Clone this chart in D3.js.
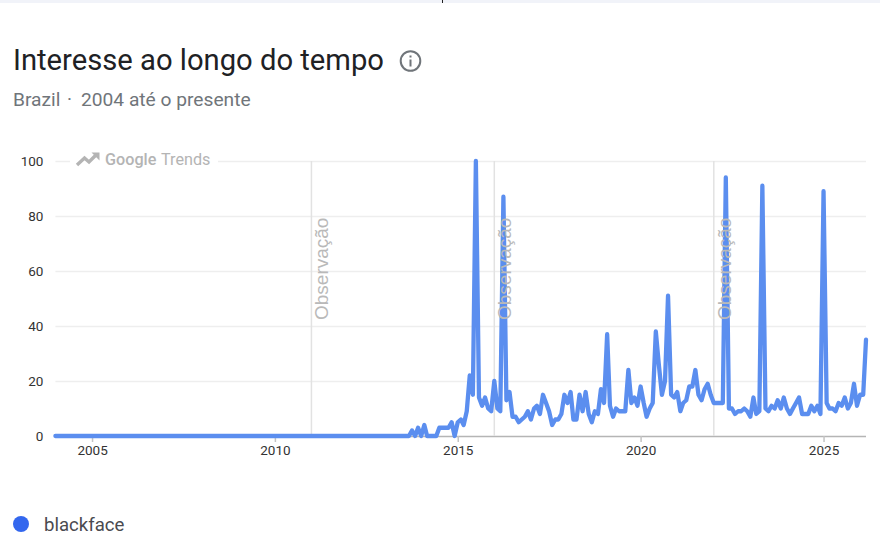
<!DOCTYPE html>
<html>
<head>
<meta charset="utf-8">
<script src="https://cdn.jsdelivr.net/npm/d3@7"></script>
<style>
  html, body { margin: 0; padding: 0; background: #fff; overflow: hidden; }
  text { font-family: Roboto, sans-serif; }
</style>
</head>
<body>
<script>
// monthly values, one row per year, first row is January 2004
const values = [
  0,0,0,0,0,0,0,0,0,0,0,0,
  0,0,0,0,0,0,0,0,0,0,0,0,
  0,0,0,0,0,0,0,0,0,0,0,0,
  0,0,0,0,0,0,0,0,0,0,0,0,
  0,0,0,0,0,0,0,0,0,0,0,0,
  0,0,0,0,0,0,0,0,0,0,0,0,
  0,0,0,0,0,0,0,0,0,0,0,0,
  0,0,0,0,0,0,0,0,0,0,0,0,
  0,0,0,0,0,0,0,0,0,0,0,0,
  0,0,0,0,0,0,0,0,0,2,0,3,
  0,4,0,0,0,0,3,3,3,3,5,0,
  5,6,4,9,22,15,100,14,11,14,10,9,
  20,10,9,87,13,16,7,7,5,6,7,9,
  6,10,11,8,15,12,9,4,6,6,8,15,
  12,16,6,6,15,9,16,8,5,9,8,17,
  12,37,11,7,10,9,9,9,24,12,14,11,
  18,12,7,10,12,38,26,15,20,51,15,14,
  16,9,12,13,18,18,24,15,13,17,19,15,
  12,12,12,12,94,10,10,8,9,9,10,9,
  7,14,8,9,91,10,9,11,10,13,10,14,
  10,8,10,12,14,8,8,8,11,9,11,8,
  89,12,10,10,9,12,11,14,10,12,19,11,
  15,15,35
];
const firstMonth = new Date(Date.UTC(2004, 0, 1));
const lastMonth = new Date(Date.UTC(2026, 2, 1));
const yTicks = [0, 20, 40, 60, 80, 100];
const xTickYears = [2005, 2010, 2015, 2020, 2025];
const noteYears = [2011, 2016, 2022];
const noteLabel = 'Observação';
const seriesName = 'blackface';

const lineColor = '#5b8eef';
const plot = {left: 55.4, right: 866, top: 161, bottom: 436};

const months = d3.utcMonth.range(firstMonth, d3.utcMonth.offset(lastMonth, 1));
const series = months.map((d, i) => ({date: d, value: values[i]}));

const svg = d3.select('body').append('svg')
    .attr('width', 880)
    .attr('height', 550)
    .style('display', 'block');

// strip at the top of the screenshot
svg.append('rect').attr('width', 880).attr('height', 3).attr('fill', '#f1f3f9');
svg.append('rect').attr('x', 442).attr('width', 1).attr('height', 3).attr('fill', '#222');

// header
svg.append('text')
    .attr('x', 13).attr('y', 70)
    .attr('font-size', 29.2)
    .attr('fill', '#202124')
    .text('Interesse ao longo do tempo');
svg.append('text')
    .attr('x', 13).attr('y', 106)
    .attr('font-size', 19.2)
    .attr('fill', '#70757a')
    .text('Brazil');
svg.append('text')
    .attr('x', 67).attr('y', 106)
    .attr('font-size', 19.2)
    .attr('fill', '#70757a')
    .text('·');
svg.append('text')
    .attr('x', 81).attr('y', 106)
    .attr('font-size', 19.2)
    .attr('fill', '#70757a')
    .text('2004 até o presente');

// info icon
const info = svg.append('g').attr('transform', 'translate(410.5,61)');
info.append('circle').attr('r', 9.8).attr('fill', 'none').attr('stroke', '#70757a').attr('stroke-width', 2);
info.append('rect').attr('x', -1).attr('y', -1.5).attr('width', 2).attr('height', 7).attr('fill', '#70757a');
info.append('rect').attr('x', -1).attr('y', -5.5).attr('width', 2).attr('height', 2).attr('fill', '#70757a');

// scales
const xScale = d3.scaleUtc()
    .domain([firstMonth, lastMonth])
    .range([plot.left, plot.right]);
const yScale = d3.scaleLinear()
    .domain([0, 100])
    .range([plot.bottom, plot.top]);

// y axis and grid
const yAxis = d3.axisLeft(yScale)
    .tickValues(yTicks)
    .tickSize(-(plot.right - plot.left))
    .tickPadding(12);
const yG = svg.append('g')
    .attr('transform', 'translate(' + plot.left + ',0)')
    .call(yAxis);
yG.select('.domain').remove();
yG.selectAll('.tick line').attr('stroke', d => d === 0 ? '#b5b5b5' : '#eeeeee').attr('stroke-width', 1.5);
yG.selectAll('.tick text')
    .attr('font-size', 13.5)
    .attr('fill', '#333')
    .style('font-family', 'Roboto, sans-serif');

// x axis
const xAxis = d3.axisBottom(xScale)
    .tickValues(xTickYears.map(y => new Date(Date.UTC(y, 0, 1))))
    .tickFormat(d3.utcFormat('%Y'))
    .tickSize(6)
    .tickPadding(3);
const xG = svg.append('g')
    .attr('transform', 'translate(0,' + plot.bottom + ')')
    .call(xAxis);
xG.select('.domain').remove();
xG.selectAll('.tick line').attr('stroke', '#c4c4c4').attr('stroke-width', 1.5);
xG.selectAll('.tick text')
    .attr('font-size', 13.5)
    .attr('fill', '#333')
    .style('font-family', 'Roboto, sans-serif');

// note lines and labels
const noteX = y => xScale(new Date(Date.UTC(y, 0, 1)));
svg.selectAll('line.note')
    .data(noteYears)
    .enter()
    .append('line')
    .attr('class', 'note')
    .attr('x1', noteX)
    .attr('x2', noteX)
    .attr('y1', plot.top)
    .attr('y2', plot.bottom)
    .attr('stroke', '#e2e2e2')
    .attr('stroke-width', 1.5);

// trends logo sits on a white patch over the top grid line
svg.append('rect').attr('x', 70).attr('y', 150).attr('width', 148).attr('height', 20).attr('fill', '#fff');
svg.append('path')
    .attr('d', 'M77 165 L84.5 158 L89 162 L96 155')
    .attr('fill', 'none')
    .attr('stroke', '#b4b4b4')
    .attr('stroke-width', 3.4);
svg.append('path')
    .attr('d', 'M91.5 152.5 L99.5 152.5 L99.5 160.5 Z')
    .attr('fill', '#b4b4b4');
svg.append('text')
    .attr('x', 105).attr('y', 165)
    .attr('font-size', 16.2)
    .attr('font-weight', 500)
    .attr('fill', '#b4b4b4')
    .text('Google');
svg.append('text')
    .attr('x', 161).attr('y', 165)
    .attr('font-size', 16.2)
    .attr('fill', '#b4b4b4')
    .text('Trends');

// series line
const line = d3.line()
    .x(d => xScale(d.date))
    .y(d => yScale(d.value));
svg.append('path')
    .datum(series)
    .attr('d', line)
    .attr('fill', 'none')
    .attr('stroke', lineColor)
    .attr('stroke-width', 4.3)
    .attr('stroke-linejoin', 'round')
    .attr('stroke-linecap', 'round');

// rotated note labels go over the line
svg.selectAll('text.noteLabel')
    .data(noteYears)
    .enter()
    .append('text')
    .attr('class', 'noteLabel')
    .attr('transform', d => 'translate(' + (noteX(d) + 17) + ',320) rotate(-90)')
    .attr('font-size', 19)
    .attr('fill', '#b9b9b9')
    .style('font-family', '"Liberation Sans", Arial, sans-serif')
    .text(noteLabel);

// legend
svg.append('circle').attr('cx', 21).attr('cy', 524).attr('r', 8).attr('fill', '#3367ee');
svg.append('text')
    .attr('x', 44).attr('y', 531)
    .attr('font-size', 18.6)
    .attr('fill', '#4a4a4f')
    .text(seriesName);
</script>
</body>
</html>
